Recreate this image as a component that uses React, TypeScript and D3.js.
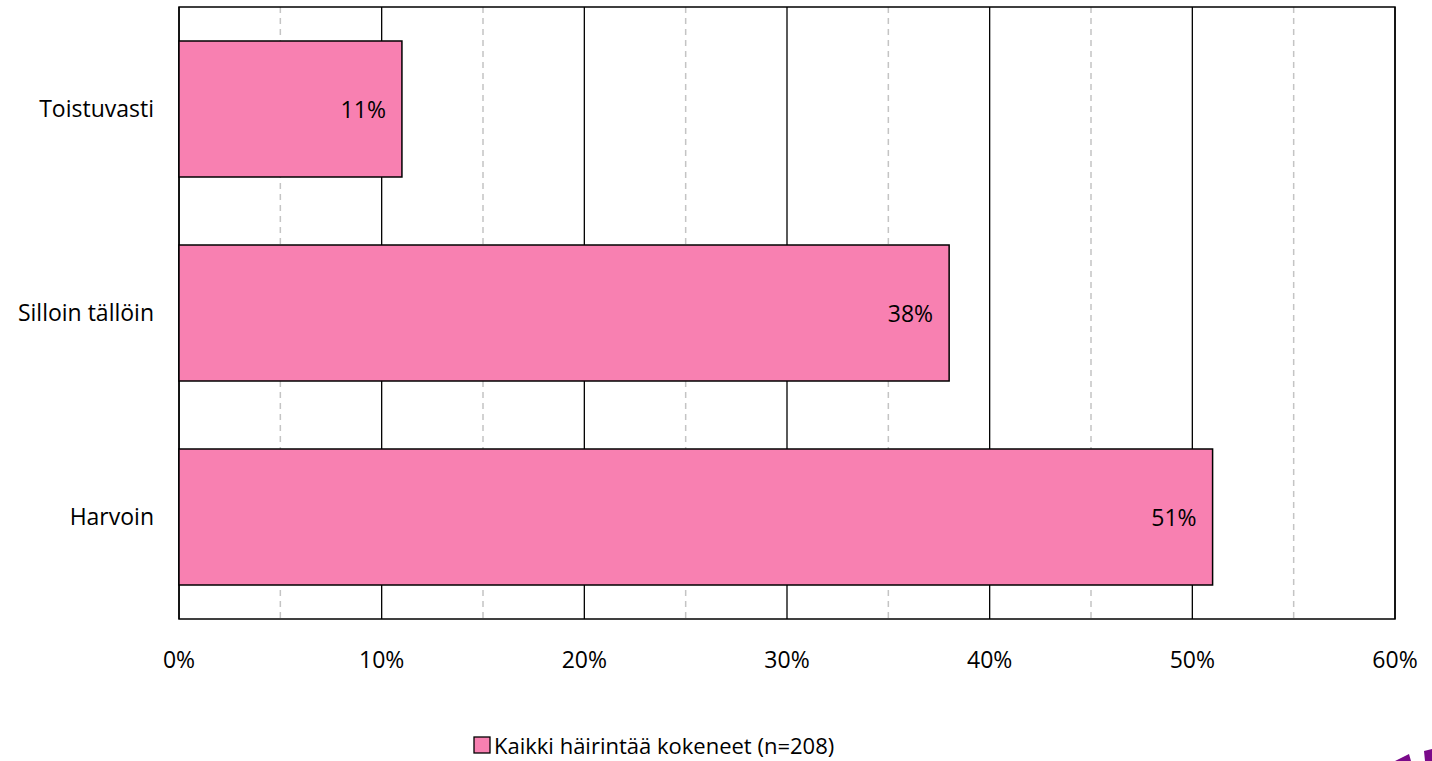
import React from 'react';
import * as d3 from 'd3';

const categories = ['Toistuvasti', 'Silloin tällöin', 'Harvoin'];
const values = [11, 38, 51];
const majorTicks = [0, 10, 20, 30, 40, 50, 60];
const minorTicks = [5, 15, 25, 35, 45, 55];
const seriesName = 'Kaikki häirintää kokeneet (n=208)';

const W = 1432;
const H = 761;
const margin = { top: 7, right: 37, bottom: 142, left: 179 };
const FONT = '"Open Sans", sans-serif';
const FS = 23;
const PINK = '#F880B1';

export default function App() {
    const innerW = W - margin.left - margin.right;
    const innerH = H - margin.top - margin.bottom;

    const x = d3.scaleLinear().domain([0, 60]).range([0, innerW]);
    const y = d3.scaleBand<string>()
        .domain(categories)
        .range([0, innerH])
        .paddingInner(1 / 3)
        .paddingOuter(1 / 6);

    return (
        <div style={{ position: 'fixed', left: 0, top: 0 }}>
            <svg width={W} height={H} style={{ display: 'block', fontFamily: FONT }}>
                <rect width={W} height={H} fill="#fff" />
                <g transform={`translate(${margin.left},${margin.top})`}>
                    {/* minor dashed grid */}
                    {minorTicks.map(t => (
                        <line key={'mi' + t} x1={x(t)} x2={x(t)} y1={0} y2={innerH}
                            stroke="#c4c4c4" strokeWidth={1.5} strokeDasharray="6,5" />
                    ))}
                    {/* major grid */}
                    {majorTicks.map(t => (
                        <line key={'ma' + t} x1={x(t)} x2={x(t)} y1={0} y2={innerH}
                            stroke="#000" strokeWidth={1.3} />
                    ))}
                    <rect x={0} y={0} width={innerW} height={innerH} fill="none" stroke="#000" strokeWidth={1.5} />

                    {categories.map((c, i) => (
                        <g key={c}>
                            <rect x={x(0)} y={y(c)} width={x(values[i]) - x(0)} height={y.bandwidth()}
                                fill={PINK} stroke="#000" strokeWidth={1.5} />
                            <text x={x(values[i]) - 16} y={(y(c) ?? 0) + y.bandwidth() / 2}
                                textAnchor="end" dominantBaseline="central" fontSize={FS} fill="#000">
                                {values[i]}%
                            </text>
                            <text x={-25} y={(y(c) ?? 0) + y.bandwidth() / 2 - 1}
                                textAnchor="end" dominantBaseline="central" fontSize={FS} fill="#000">
                                {c}
                            </text>
                        </g>
                    ))}

                    {majorTicks.map(t => (
                        <text key={'tl' + t} x={x(t)} y={innerH + 40} textAnchor="middle"
                            dominantBaseline="central" fontSize={FS} fill="#000">
                            {t}%
                        </text>
                    ))}
                </g>

                {/* legend */}
                <g transform="translate(474,737)">
                    <rect x={0} y={0} width={16} height={16} fill={PINK} stroke="#000" strokeWidth={1.3} />
                    <text x={20} y={8} dominantBaseline="central" fontSize={22} fill="#000">{seriesName}</text>
                </g>

                {/* corner logo fragment */}
                <path d="M1395,761 L1409,754 L1411,761 Z M1424,751 L1432,749 L1432,761 L1425,761 Z" fill="#7a0a8a" />
            </svg>
        </div>
    );
}
